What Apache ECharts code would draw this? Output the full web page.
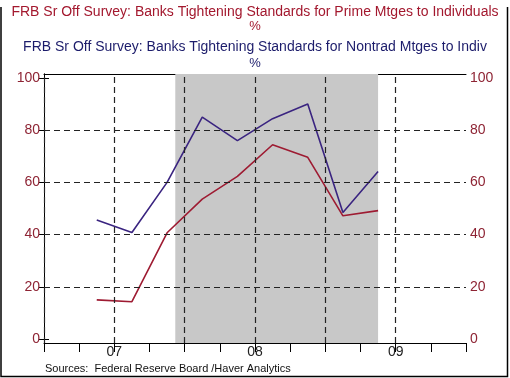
<!DOCTYPE html>
<html>
<head>
<meta charset="utf-8">
<script src="https://cdn.jsdelivr.net/npm/echarts@6/dist/echarts.min.js"></script>
<style>html,body{margin:0;padding:0;background:#fff}#c{width:510px;height:378px}</style>
</head>
<body>
<div id="c"></div>
<script>
// Months since Jan 2007 (survey quarters)
var months = [4.5, 7.5, 10.5, 13.5, 16.5, 19.5, 22.5, 25.5, 28.5];
var primeValues = [15.0, 14.3, 40.7, 53.6, 62.3, 74.4, 69.6, 47.2, 49.2];
var nontradValues = [45.6, 40.8, 60.0, 85.0, 76.0, 84.4, 90.0, 48.5, 64.2];
var yearLabels = {6: '07', 18: '08', 30: '09'};
var yTicks = [0, 20, 40, 60, 80, 100];
var hGrid = [20, 40, 60, 80];
var vGrid = [0, 6, 12, 18, 24, 30];
var recession = [11.2, 28.5];
var title1 = 'FRB Sr Off Survey: Banks Tightening Standards for Prime Mtges to Individuals';
var title2 = 'FRB Sr Off Survey: Banks Tightening Standards for Nontrad Mtges to Indiv';
var sourceText = 'Sources:  Federal Reserve Board /Haver Analytics';

function pairs(xs, ys){ return xs.map(function(x,i){ return [x, ys[i]]; }); }

var chart = echarts.init(document.getElementById('c'), null, {renderer:'canvas'});
var red = '#9E1B32', blue = '#3A2480', lblRed = '#8E2434';
var font = 'Arial, "Liberation Sans", sans-serif';
var yAxisCommon = {
  type:'value', min:-1.5, max:101.5,
  axisLine:{show:true, lineStyle:{color:'#000', width:1}},
  axisTick:{show:true, length:5, customValues:yTicks, lineStyle:{color:'#000'}},
  axisLabel:{show:true, customValues:yTicks, color:lblRed, fontSize:14, fontFamily:font, margin:4},
  splitLine:{show:false}
};
function t(text, top, color, size){
  return {text:text, left:'center', top:top, padding:0,
    textStyle:{color:color, fontSize:size, fontWeight:'normal', fontFamily:font}};
}
chart.setOption({
  animation:false,
  backgroundColor:'#fff',
  title:[
    t(title1, 5, '#A3182E', 14),
    t('%', 20, '#A3182E', 13),
    t(title2, 40.5, '#1C1C6B', 14),
    t('%', 57, '#1C1C6B', 13),
    {text:sourceText, left:45, top:363, padding:0, textStyle:{color:'#111', fontSize:11, fontWeight:'normal', fontFamily:font}}
  ],
  grid:{left:44, right:44, top:74, bottom:35},
  xAxis:[
    {type:'value', min:0, max:36, interval:3, position:'bottom',
     axisLine:{show:true, onZero:false, lineStyle:{color:'#000'}},
     axisTick:{show:true, length:9, lineStyle:{color:'#000'}},
     axisLabel:{show:true, margin:2, color:'#222', fontSize:14, fontFamily:font,
       formatter:function(v){ return yearLabels[v] || ''; }},
     splitLine:{show:false}},
    {type:'value', min:0, max:36, position:'top',
     axisLine:{show:true, onZero:false, lineStyle:{color:'#000'}},
     axisTick:{show:false}, axisLabel:{show:false}, splitLine:{show:false}}
  ],
  yAxis:[
    Object.assign({position:'left'}, yAxisCommon),
    Object.assign({position:'right'}, yAxisCommon)
  ],
  series:[
    {type:'line', data:[], silent:true, z:1,
     markArea:{silent:true, itemStyle:{color:'#C8C8C8'}, data:[[{xAxis:recession[0]},{xAxis:recession[1]}]]},
     markLine:{silent:true, symbol:'none', label:{show:false},
       lineStyle:{color:'#222', type:[6,4], width:1.2},
       data: hGrid.map(function(v){return {yAxis:v};}).concat(vGrid.map(function(v){return {xAxis:v};}))}
    },
    {name:'Prime', type:'line', data:pairs(months, primeValues), showSymbol:false, z:3,
     lineStyle:{color:red, width:1.6}, itemStyle:{color:red}},
    {name:'Nontrad', type:'line', data:pairs(months, nontradValues), showSymbol:false, z:3,
     lineStyle:{color:blue, width:1.6}, itemStyle:{color:blue}}
  ],
  graphic:[
    {type:'polyline', shape:{points:[[1,7],[1,376.5],[507.5,376.5],[507.5,7]]}, style:{stroke:'#000', lineWidth:1.5, fill:null}}
  ]
});
</script>
</body>
</html>
